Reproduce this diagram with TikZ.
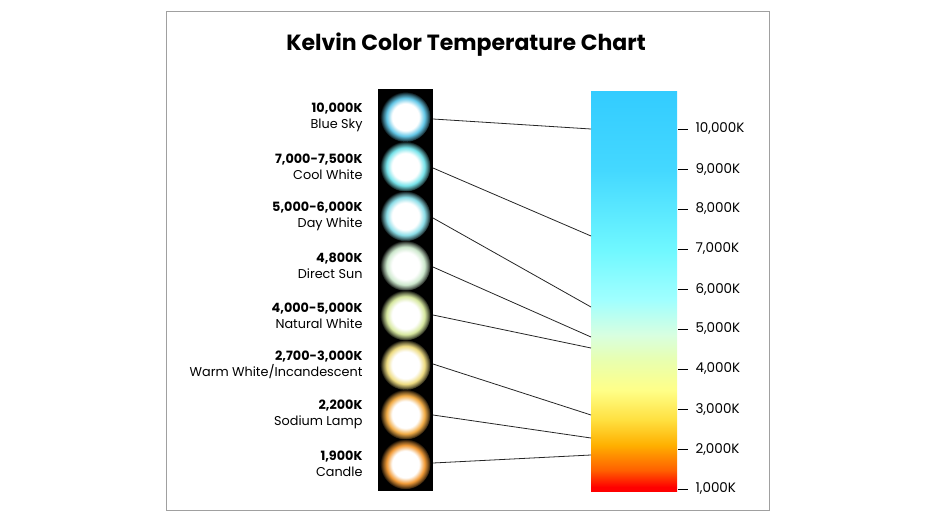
\documentclass[tikz,border=0pt]{standalone}
\usepackage{fontspec}
\setmainfont{Poppins}
\usetikzlibrary{shapes}

% bar colours, bottom to top
\definecolor{kb0}{RGB}{255,0,0}
\definecolor{kb1}{RGB}{255,96,0}
\definecolor{kb2}{RGB}{255,176,0}
\definecolor{kb3}{RGB}{255,224,64}
\definecolor{kb4}{RGB}{255,255,136}
\definecolor{kb5}{RGB}{232,255,176}
\definecolor{kb6}{RGB}{216,255,224}
\definecolor{kb7}{RGB}{160,255,255}
\definecolor{kb8}{RGB}{112,248,255}
\definecolor{kb9}{RGB}{68,216,255}
\definecolor{kb10}{RGB}{51,204,255}
% lamp glows
\definecolor{skyglow}{RGB}{100,200,232}
\definecolor{coolglow}{RGB}{120,228,235}
\definecolor{dayglow}{RGB}{140,222,232}
\definecolor{sunglow}{RGB}{205,232,205}
\definecolor{naturalglow}{RGB}{215,232,160}
\definecolor{warmglow}{RGB}{238,220,130}
\definecolor{sodiumglow}{RGB}{242,172,70}
\definecolor{candleglow}{RGB}{242,155,55}
\definecolor{framegray}{RGB}{160,160,160}
\colorlet{glowc}{white}

% the bar runs over 25bp..75bp of the shading
\pgfdeclareverticalshading{kelvinbar}{100bp}{color(0bp)=(kb0); color(25.5bp)=(kb0);
  color(27.6bp)=(kb1); color(30.75bp)=(kb2); color(33.9bp)=(kb3); color(37.6bp)=(kb4);
  color(41.4bp)=(kb5); color(44.5bp)=(kb6); color(48.9bp)=(kb7); color(55.1bp)=(kb8);
  color(65.1bp)=(kb9); color(75bp)=(kb10); color(100bp)=(kb10)}
\pgfdeclareradialshading[glowc]{glow}{\pgfpoint{0bp}{0bp}}{color(0bp)=(white);
  color(13.5bp)=(white); color(19bp)=(glowc); color(22.5bp)=(glowc!50!black);
  color(25.5bp)=(black); color(50bp)=(black)}

\tikzset{
  lamp/.style={circle, minimum size=50, inner sep=0, /utils/exec={\colorlet{glowc}{#1}}, shade, shading=glow},
  lampname/.style={anchor=east, align=right, font=\fontsize{12.8}{16}\selectfont},
  link/.style={black!85, line width=0.8pt},
  tick/.style={black, line width=0.9pt},
  ticklabel/.style={anchor=west, font=\fontsize{13.5}{15}\selectfont}
}

\begin{document}
\begin{tikzpicture}[x=1pt, y=-1pt]
\useasboundingbox (0,0) rectangle (931,519);
\draw[framegray, line width=1pt] (166,12) rectangle (769,510);
\node[font=\fontsize{22}{28}\selectfont\bfseries] (title) at (466,45) {Kelvin Color Temperature Chart};

% lamp strip
\fill[black] (378,89) rectangle (433,491);
\node[lamp=skyglow] (sky) at (405.5,117) {};
\node[lamp=coolglow] (cool) at (405.5,166.6) {};
\node[lamp=dayglow] (day) at (405.5,216.2) {};
\node[lamp=sunglow] (sun) at (405.5,265.8) {};
\node[lamp=naturalglow] (natural) at (405.5,315.4) {};
\node[lamp=warmglow] (warm) at (405.5,365) {};
\node[lamp=sodiumglow] (sodium) at (405.5,414.6) {};
\node[lamp=candleglow] (candle) at (405.5,464.2) {};

\node[lampname] (skyname) at (366,117) {\textbf{10,000K}\\Blue Sky};
\node[lampname] (coolname) at (366,166.6) {\textbf{7,000-7,500K}\\Cool White};
\node[lampname] (dayname) at (366,216.2) {\textbf{5,000-6,000K}\\Day White};
\node[lampname] (sunname) at (366,265.8) {\textbf{4,800K}\\Direct Sun};
\node[lampname] (naturalname) at (366,315.4) {\textbf{4,000-5,000K}\\Natural White};
\node[lampname] (warmname) at (366,365) {\textbf{2,700-3,000K}\\Warm White/Incandescent};
\node[lampname] (sodiumname) at (366,414.6) {\textbf{2,200K}\\Sodium Lamp};
\node[lampname] (candlename) at (366,464.2) {\textbf{1,900K}\\Candle};

% kelvin bar
\shade[shading=kelvinbar] (591,91) rectangle (677,491);
\foreach \k/\y in {10/129, 9/169, 8/209, 7/249, 6/289, 5/329, 4/369, 3/409, 2/449, 1/489} {
  \draw[tick] (678,\y) -- (688,\y);
  \node[ticklabel] (k\k) at (692,\y) {\k,000K};
}

% where each lamp meets the bar
\coordinate (skyout) at (433,119);
\coordinate (coolout) at (433,168);
\coordinate (dayout) at (433,218);
\coordinate (sunout) at (433,267);
\coordinate (naturalout) at (433,315);
\coordinate (warmout) at (433,364);
\coordinate (sodiumout) at (433,415);
\coordinate (candleout) at (433,463);
\coordinate (skyin) at (591,129);
\coordinate (coolin) at (591,236);
\coordinate (dayin) at (591,307);
\coordinate (sunin) at (591,337);
\coordinate (naturalin) at (591,348);
\coordinate (warmin) at (591,415);
\coordinate (sodiumin) at (591,438);
\coordinate (candlein) at (591,455);
\draw[link] (skyout) -- (skyin);
\draw[link] (coolout) -- (coolin);
\draw[link] (dayout) -- (dayin);
\draw[link] (sunout) -- (sunin);
\draw[link] (naturalout) -- (naturalin);
\draw[link] (warmout) -- (warmin);
\draw[link] (sodiumout) -- (sodiumin);
\draw[link] (candleout) -- (candlein);
\end{tikzpicture}
\end{document}
